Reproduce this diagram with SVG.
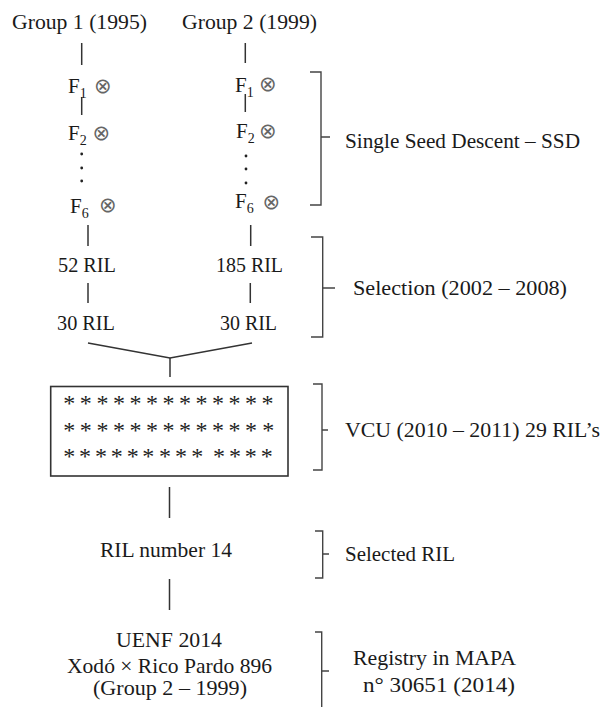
<svg xmlns="http://www.w3.org/2000/svg" width="601" height="707" viewBox="0 0 601 707">
<style>
.t{font-family:'Liberation Serif','DejaVu Serif',serif;font-size:21px;fill:#1a1a1a}
.sub{font-size:14px}
.ot{font-family:'DejaVu Sans',sans-serif;font-size:21px;fill:#666}
.star{font-family:'Liberation Serif',serif;font-size:24px;text-anchor:middle;fill:#222}
.ln{stroke:#333;stroke-width:1.5;fill:none}
.br{stroke:#444;stroke-width:1.4;fill:none}
</style>
<rect width="601" height="707" fill="#fff"/>
<g id="connectors">
<line class="ln" x1="81.7" y1="43" x2="81.7" y2="65"/>
<line class="ln" x1="245.3" y1="43" x2="245.3" y2="63"/>
<line class="ln" x1="81.7" y1="97" x2="81.7" y2="115"/>
<line class="ln" x1="245.3" y1="94" x2="245.3" y2="112"/>
<circle cx="81.7" cy="154" r="1.4" fill="#222"/>
<circle cx="81.7" cy="168" r="1.4" fill="#222"/>
<circle cx="81.7" cy="181" r="1.4" fill="#222"/>
<circle cx="246" cy="156" r="1.4" fill="#222"/>
<circle cx="246" cy="169" r="1.4" fill="#222"/>
<circle cx="246" cy="183" r="1.4" fill="#222"/>
<line class="ln" x1="88" y1="225" x2="88" y2="246"/>
<line class="ln" x1="250.7" y1="225" x2="250.7" y2="246"/>
<line class="ln" x1="88" y1="283" x2="88" y2="303"/>
<line class="ln" x1="250.3" y1="283" x2="250.3" y2="303"/>
<polyline class="ln" points="88,343 170,358 252,343"/>
<line class="ln" x1="170" y1="358" x2="170" y2="377"/>
<line class="ln" x1="169.5" y1="487" x2="169.5" y2="518"/>
<line class="ln" x1="169.5" y1="579" x2="169.5" y2="610"/>
</g>
<g id="group1"><text class="t" x="12" y="29" textLength="135" lengthAdjust="spacingAndGlyphs">Group 1 (1995)</text></g>
<g id="group2"><text class="t" x="182" y="29" textLength="135" lengthAdjust="spacingAndGlyphs">Group 2 (1999)</text></g>
<g id="g1-f1"><text class="t" x="68" y="93">F<tspan class="sub" dy="5">1</tspan></text><text class="ot" x="94" y="93">⊗</text></g>
<g id="g1-f2"><text class="t" x="68" y="140">F<tspan class="sub" dy="5">2</tspan></text><text class="ot" x="92.5" y="140">⊗</text></g>
<g id="g1-f6"><text class="t" x="70" y="213">F<tspan class="sub" dy="5">6</tspan></text><text class="ot" x="99" y="212">⊗</text></g>
<g id="g2-f1"><text class="t" x="235" y="91.5">F<tspan class="sub" dy="5">1</tspan></text><text class="ot" x="259" y="91">⊗</text></g>
<g id="g2-f2"><text class="t" x="236" y="138">F<tspan class="sub" dy="5">2</tspan></text><text class="ot" x="259" y="138">⊗</text></g>
<g id="g2-f6"><text class="t" x="235" y="208">F<tspan class="sub" dy="5">6</tspan></text><text class="ot" x="262.5" y="209">⊗</text></g>
<g id="ssd">
<path class="br" d="M310,72 L321,72 L321,205 L310,205 M321,137 L330,137"/>
<text class="t" x="345" y="148" textLength="235" lengthAdjust="spacingAndGlyphs">Single Seed Descent – SSD</text>
</g>
<g id="g1-52"><text class="t" x="58" y="272" textLength="58" lengthAdjust="spacingAndGlyphs">52 RIL</text></g>
<g id="g2-185"><text class="t" x="216" y="272" textLength="67" lengthAdjust="spacingAndGlyphs">185 RIL</text></g>
<g id="g1-30"><text class="t" x="57" y="330" textLength="58" lengthAdjust="spacingAndGlyphs">30 RIL</text></g>
<g id="g2-30"><text class="t" x="220" y="330" textLength="57" lengthAdjust="spacingAndGlyphs">30 RIL</text></g>
<g id="selection">
<path class="br" d="M311,237 L322.7,237 L322.7,337 L311,337 M322.7,288 L335,288"/>
<text class="t" x="353" y="295" textLength="214" lengthAdjust="spacingAndGlyphs">Selection (2002 – 2008)</text>
</g>
<g id="vcu-box">
<rect x="50.7" y="386.5" width="237.3" height="89.5" fill="none" stroke="#333" stroke-width="1.6"/>
<text class="star" x="69.3 85.8 102.4 118.9 135.4 151.9 168.5 185 201.5 218 234.6 251.1 267.6" y="411">*************</text>
<text class="star" x="69.3 85.8 102.4 118.9 135.4 151.9 168.5 185 201.5 218 234.6 251.1 268.3" y="437.5">*************</text>
<text class="star" x="69.3 85 101 116.7 132.7 148.3 165 181 197.3 219 235 250.7 266.7" y="464">*************</text>
</g>
<g id="vcu">
<path class="br" d="M313,384 L322,384 L322,470 L313,470 M322,430 L328,430"/>
<text class="t" x="345" y="437" textLength="255" lengthAdjust="spacingAndGlyphs">VCU  (2010 – 2011) 29 RIL’s</text>
</g>
<g id="ril14"><text class="t" x="100" y="557" textLength="132" lengthAdjust="spacingAndGlyphs">RIL number 14</text></g>
<g id="selected">
<path class="br" d="M315,531 L322.7,531 L322.7,578 L315,578 M322.7,554 L329,554"/>
<text class="t" x="345" y="561" textLength="110" lengthAdjust="spacingAndGlyphs">Selected RIL</text>
</g>
<g id="uenf">
<text class="t" x="116" y="647" textLength="106" lengthAdjust="spacingAndGlyphs">UENF 2014</text>
<text class="t" x="67" y="673" textLength="205" lengthAdjust="spacingAndGlyphs">Xodó × Rico Pardo 896</text>
<text class="t" x="93" y="695" textLength="154" lengthAdjust="spacingAndGlyphs">(Group 2 – 1999)</text>
</g>
<g id="registry">
<path class="br" d="M315,632 L321.7,632 L321.7,708 M321.7,671 L329,671"/>
<text class="t" x="353" y="665" textLength="163" lengthAdjust="spacingAndGlyphs">Registry in MAPA</text>
<text class="t" x="363" y="692" textLength="152" lengthAdjust="spacingAndGlyphs">n° 30651 (2014)</text>
</g>
</svg>
